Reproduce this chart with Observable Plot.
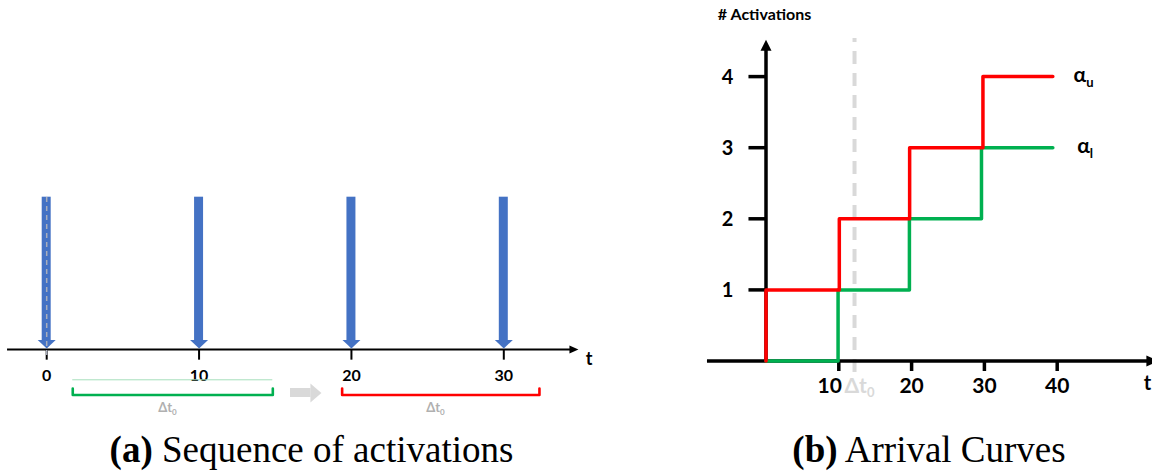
<!DOCTYPE html>
<html>
<head>
<meta charset="utf-8">
<script src="https://cdn.jsdelivr.net/npm/d3@7"></script>
<script src="https://cdn.jsdelivr.net/npm/@observablehq/plot@0.6"></script>
<style>
  html, body { margin: 0; padding: 0; background: #fff; }
  #fig { position: relative; width: 1152px; height: 476px; overflow: hidden; background: #fff; }
  #fig svg { position: absolute; top: 0; overflow: visible; }
  .cap { position: absolute; top: 431px; font-family: "Liberation Serif", serif; font-size: 37px;
         line-height: 1; white-space: nowrap; transform: translateX(-50%); color: #000; }
</style>
</head>
<body>
<div id="fig"></div>
<script>
// ---------- data: panel (a) ----------
const activationTimes = [0, 10, 20, 30];
const timelineTicks = [0, 10, 20, 30];
const windowStarts = [1.71, 19.39];
const windowEnds = [14.84, 32.34];
const windowColors = ["#00B050", "#FF0000"];
const windowLabel = "Δt_0";

// ---------- data: panel (b) ----------
const upperTimes = [0, 10.07, 19.73, 29.8];
const lowerTimes = [9.9, 19.7, 29.6];
const curveEnd = 39.4;
const xTicks = [10, 20, 30, 40];
const yTicks = [1, 2, 3, 4];
const deltaT0 = 12.16;
const curveNames = ["α_u", "α_l"];
const curveLevels = [4, 3];
const curveColors = ["#FF0000", "#00B050"];
const yLabel = "# Activations";
const xLabel = "t";
const captions = ["(a)", " Sequence of activations", "(b)", " Arrival Curves"];

// ---------- helpers ----------
const FONT = "Lato";
function tri(w, h) { // triangle with its tip at the anchor, pointing up
  return { draw(ctx) { ctx.moveTo(0, 0); ctx.lineTo(-w / 2, h); ctx.lineTo(w / 2, h); ctx.closePath(); } };
}
function subscripts(svg) {
  d3.select(svg).selectAll("text").each(function () {
    const t = this.textContent;
    if (!t.includes("_")) return;
    const [main, sub] = t.split("_");
    this.textContent = main;
    d3.select(this).append("tspan").attr("dy", "0.35em").attr("font-size", "62%").text(sub);
  });
}
const steps = (times, end) => [{ t: 0, n: 0 }, ...times.map((t, i) => ({ t, n: i + 1 })), { t: end, n: times.length }];

const fig = document.getElementById("fig");

// ---------- panel (a) ----------
const blue = "#4472C4";
const bracketPts = windowStarts.flatMap((s, i) => [
  { x: s, y: -0.256, k: i }, { x: s, y: -0.299, k: i }, { x: windowEnds[i], y: -0.299, k: i }, { x: windowEnds[i], y: -0.256, k: i }
]);
const left = Plot.plot({
  width: 620, height: 420,
  x: { domain: [0, 30], range: [46.2, 503.3] },
  y: { domain: [0, 1], range: [349, 196.7] },
  axis: null,
  style: { fontFamily: FONT, background: "transparent", overflow: "visible" },
  marks: [
    // time axis
    Plot.ruleY([0], { x1: -2.57, x2: 34.4, stroke: "#000", strokeWidth: 2 }),
    Plot.dot([0], { x: 34.9, y: 0, symbol: tri(8, 9), rotate: 90, fill: "#000", r: 4 }),
    Plot.ruleX(timelineTicks, { x: d => d, y1: 0, y2: -0.07, stroke: "#000", strokeWidth: 2 }),
    Plot.text(timelineTicks, { x: d => d, y: -0.171, text: d => String(d), fontSize: 16, fontWeight: "bold", fill: "#000", fontFamily: FONT }),
    Plot.text([xLabel], { x: 35.6, y: -0.066, text: d => d, fontSize: 18, fontWeight: "bold", fill: "#000", fontFamily: FONT }),
    // activation arrows
    Plot.rect(activationTimes, { x1: d => d - 0.295, x2: d => d + 0.295, y1: 0.055, y2: 1, fill: blue }),
    Plot.dot(activationTimes, { x: d => d, y: 0.007, symbol: tri(18, 8.5), rotate: 180, fill: blue, r: 5 }),
    Plot.ruleX([activationTimes[0]], { x: d => d, y1: -0.04, y2: 1, stroke: "#a9aebb", strokeWidth: 1.5, strokeDasharray: "5,4" }),
    // windows
    Plot.ruleY([-0.199], { x1: windowStarts[0], x2: windowEnds[0], stroke: "#a6dfbb", strokeWidth: 1 }),
    Plot.line(bracketPts, { x: "x", y: "y", z: "k", stroke: d => windowColors[d.k], strokeWidth: 2.6 }),
    Plot.text(windowStarts, { x: (d, i) => (d + windowEnds[i]) / 2 - 0.35, y: -0.381, text: () => windowLabel, fontSize: 13, fontWeight: "bold", fill: "#b0b0b0", fontFamily: FONT }),
    // grey shift arrow
    Plot.rect([0], { x1: 16.0, x2: 17.35, y1: -0.315, y2: -0.256, fill: "#d9d9d9" }),
    Plot.dot([0], { x: 18.03, y: -0.286, symbol: tri(19, 11), rotate: 90, fill: "#d9d9d9", r: 5 })
  ]
});
left.style.left = "0px";
subscripts(left);
fig.appendChild(left);

// ---------- panel (b) ----------
const upper = steps(upperTimes, curveEnd).map(d => ({ ...d, s: 0 }));
const lower = steps(lowerTimes, curveEnd).map(d => ({ ...d, s: 1 }));
const right = Plot.plot({
  width: 532, height: 420,
  x: { domain: [0, 40], range: [145.5, 436.7] },
  y: { domain: [0, 4], range: [360.5, 76.1] },
  axis: null,
  style: { fontFamily: FONT, background: "transparent", overflow: "visible" },
  marks: [
    Plot.ruleX([deltaT0], { x: d => d, y1: -0.16, y2: 4.535, stroke: "#d9d9d9", strokeWidth: 4, strokeDasharray: "13,9" }),
    // axes
    Plot.ruleY([0], { x1: -8.04, x2: 52.6, stroke: "#000", strokeWidth: 3.5 }),
    Plot.dot([0], { x: 53.9, y: 0, symbol: tri(11, 12), rotate: 90, fill: "#000", r: 5 }),
    Plot.ruleX([0], { x: 0, y1: 0, y2: 4.38, stroke: "#000", strokeWidth: 3.5 }),
    Plot.dot([0], { x: 0, y: 4.52, symbol: tri(11, 11), rotate: 0, fill: "#000", r: 5 }),
    Plot.ruleX(xTicks, { x: d => d, y1: 0, y2: -0.148, stroke: "#000", strokeWidth: 3.5 }),
    Plot.ruleY(yTicks, { y: d => d, x1: -2.34, x2: 0, stroke: "#000", strokeWidth: 3.5 }),
    Plot.text(xTicks, { x: d => d, y: -0.352, dx: -9, text: d => String(d), filter: (d, i) => i === 0, fontSize: 21, fontWeight: "bold", fill: "#000", fontFamily: FONT }),
    Plot.text(xTicks, { x: d => d, y: -0.352, text: d => String(d), filter: (d, i) => i > 0, fontSize: 21, fontWeight: "bold", fill: "#000", fontFamily: FONT }),
    Plot.text(yTicks, { x: -5.29, y: d => d, dy: 1, text: d => String(d), fontSize: 20, fontWeight: "bold", fill: "#000", fontFamily: FONT }),
    Plot.text([windowLabel], { x: 12.84, y: -0.352, text: d => d, fontSize: 21, fontWeight: "bold", fill: "#d9d9d9", fontFamily: FONT }),
    Plot.text([xLabel], { x: 52.4, y: -0.316, text: d => d, fontSize: 20, fontWeight: "bold", fill: "#000", fontFamily: FONT }),
    Plot.text([yLabel], { x: -0.2, y: 4.873, text: d => d, fontSize: 16, fontWeight: "bold", fill: "#000", fontFamily: FONT }),
    // curves
    Plot.line(lower, { x: "t", y: "n", curve: "step-after", stroke: curveColors[1], strokeWidth: 3.5 }),
    Plot.line(upper, { x: "t", y: "n", curve: "step-after", stroke: curveColors[0], strokeWidth: 3.5 }),
    Plot.text(curveNames, { x: (d, i) => 42.24 + i * 0.5, y: (d, i) => curveLevels[i], dy: -1, text: d => d, textAnchor: "start", fontSize: 21, fontWeight: "bold", fill: "#000", fontFamily: FONT })
  ]
});
right.style.left = "620px";
subscripts(right);
fig.appendChild(right);

// ---------- captions ----------
[[311.5, 0], [929, 2]].forEach(([cx, k]) => {
  const d = document.createElement("div");
  d.className = "cap";
  d.style.left = cx + "px";
  const b = document.createElement("b");
  b.textContent = captions[k];
  d.appendChild(b);
  d.appendChild(document.createTextNode(captions[k + 1]));
  fig.appendChild(d);
});
</script>
</body>
</html>
